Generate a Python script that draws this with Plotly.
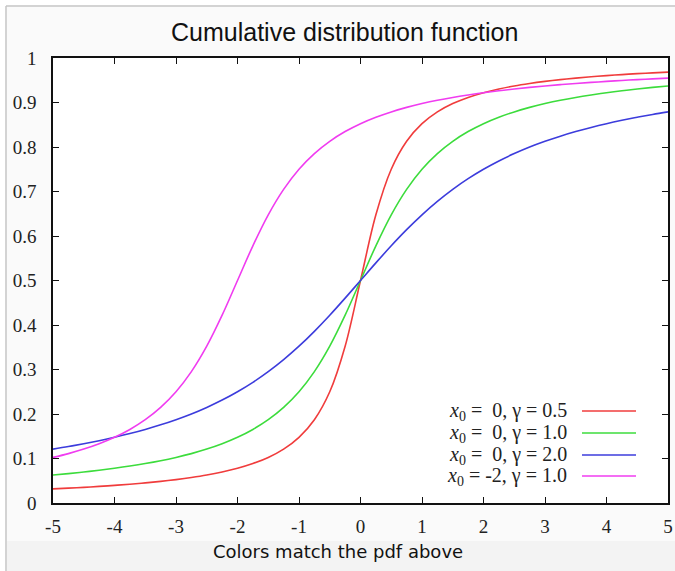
import plotly.graph_objects as go

# ---- data ----
x_vals = [-5, -4.75, -4.5, -4.25, -4, -3.75, -3.5, -3.25, -3, -2.75, -2.5, -2.25, -2, -1.75, -1.5,
          -1.25, -1, -0.75, -0.5, -0.25, 0, 0.25, 0.5, 0.75, 1, 1.25, 1.5, 1.75, 2, 2.25, 2.5,
          2.75, 3, 3.25, 3.5, 3.75, 4, 4.25, 4.5, 4.75, 5]

red_x0_0_g05 = [0.0317, 0.0334, 0.0352, 0.0373, 0.0396, 0.0422, 0.0452, 0.0486, 0.0526, 0.0573,
                0.0628, 0.0696, 0.0780, 0.0886, 0.1024, 0.1211, 0.1476, 0.1872, 0.2500, 0.3524,
                0.5000, 0.6476, 0.7500, 0.8128, 0.8524, 0.8789, 0.8976, 0.9114, 0.9220, 0.9304,
                0.9372, 0.9427, 0.9474, 0.9514, 0.9548, 0.9578, 0.9604, 0.9627, 0.9648, 0.9666, 0.9683]

green_x0_0_g1 = [0.0628, 0.0661, 0.0696, 0.0736, 0.0780, 0.0830, 0.0886, 0.0950, 0.1024, 0.1110,
                 0.1211, 0.1331, 0.1476, 0.1653, 0.1872, 0.2148, 0.2500, 0.2952, 0.3524, 0.4220,
                 0.5000, 0.5780, 0.6476, 0.7048, 0.7500, 0.7852, 0.8128, 0.8347, 0.8524, 0.8669,
                 0.8789, 0.8890, 0.8976, 0.9050, 0.9114, 0.9170, 0.9220, 0.9264, 0.9304, 0.9339, 0.9372]

blue_x0_0_g2 = [0.1211, 0.1268, 0.1331, 0.1400, 0.1476, 0.1560, 0.1653, 0.1756, 0.1872, 0.2001,
                0.2148, 0.2313, 0.2500, 0.2712, 0.2952, 0.3222, 0.3524, 0.3858, 0.4220, 0.4604,
                0.5000, 0.5396, 0.5780, 0.6142, 0.6476, 0.6778, 0.7048, 0.7288, 0.7500, 0.7687,
                0.7852, 0.7999, 0.8128, 0.8244, 0.8347, 0.8440, 0.8524, 0.8600, 0.8669, 0.8732, 0.8789]

magenta_x0_m2_g1 = [0.1024, 0.1110, 0.1211, 0.1331, 0.1476, 0.1653, 0.1872, 0.2148, 0.2500, 0.2952,
                    0.3524, 0.4220, 0.5000, 0.5780, 0.6476, 0.7048, 0.7500, 0.7852, 0.8128, 0.8347,
                    0.8524, 0.8669, 0.8789, 0.8890, 0.8976, 0.9050, 0.9114, 0.9170, 0.9220, 0.9264,
                    0.9304, 0.9339, 0.9372, 0.9401, 0.9428, 0.9452, 0.9474, 0.9495, 0.9514, 0.9532, 0.9548]

series_labels = ["<i>x</i><sub>0</sub> =  0, γ = 0.5",
                 "<i>x</i><sub>0</sub> =  0, γ = 1.0",
                 "<i>x</i><sub>0</sub> =  0, γ = 2.0",
                 "<i>x</i><sub>0</sub> = -2, γ = 1.0"]
series_values = [red_x0_0_g05, green_x0_0_g1, blue_x0_0_g2, magenta_x0_m2_g1]
series_colors = ["#f03c3c", "#3cdc3c", "#3c3cdc", "#f03cf0"]

x_tick_vals = [-5, -4, -3, -2, -1, 0, 1, 2, 3, 4, 5]
x_tick_text = ["-5", "-4", "-3", "-2", "-1", "0", "1", "2", "3", "4", "5"]
y_tick_vals = [0, 0.1, 0.2, 0.3, 0.4, 0.5, 0.6, 0.7, 0.8, 0.9, 1]
y_tick_text = ["0", "0.1", "0.2", "0.3", "0.4", "0.5", "0.6", "0.7", "0.8", "0.9", "1"]

title_text = "Cumulative distribution function"
xlabel_text = "Colors match the pdf above"

# ---- figure ----
fig = go.Figure()
for lab, vals, col in zip(series_labels, series_values, series_colors):
    fig.add_trace(go.Scatter(x=x_vals, y=vals, mode="lines", name=lab,
                             line=dict(color=col, width=1.6, shape="spline", smoothing=1.0),
                             showlegend=False))

W, H = 675, 571
L, R, T, B = 53, 668, 58, 503

def px(xp):
    return (xp - L) / (R - L)

def py(yp):
    return (B - yp) / (B - T)

shapes = []
# page frame (light background, left & top border lines)
shapes.append(dict(type="rect", xref="paper", yref="paper",
                   x0=px(7), x1=px(W + 5), y0=py(H + 5), y1=py(7),
                   fillcolor="#fafafa", line=dict(width=0), layer="below"))
shapes.append(dict(type="rect", xref="paper", yref="paper",
                   x0=px(7), x1=px(W + 5), y0=py(H + 5), y1=py(541),
                   fillcolor="#f3f3f3", line=dict(width=0), layer="below"))
shapes.append(dict(type="line", xref="paper", yref="paper",
                   x0=px(6), x1=px(W + 5), y0=py(6), y1=py(6),
                   line=dict(color="#c4c4c4", width=1.5)))
shapes.append(dict(type="line", xref="paper", yref="paper",
                   x0=px(6), x1=px(6), y0=py(6), y1=py(H + 5),
                   line=dict(color="#c4c4c4", width=1.5)))
shapes.append(dict(type="rect", xref="paper", yref="paper",
                   x0=0, x1=1, y0=0, y1=1, fillcolor="white",
                   line=dict(width=0), layer="below"))

annotations = []
row_y = [411, 433, 455, 476]
for lab, col, ry in zip(series_labels, series_colors, row_y):
    annotations.append(dict(xref="paper", yref="paper", x=px(569), y=py(ry),
                            text=lab, showarrow=False, xanchor="right", yanchor="middle",
                            font=dict(family="Liberation Serif", size=20, color="#222")))
    shapes.append(dict(type="line", xref="paper", yref="paper",
                       x0=px(582), x1=px(636), y0=py(ry), y1=py(ry),
                       line=dict(color=col, width=1.6)))

annotations.append(dict(xref="paper", yref="paper", x=px(344), y=py(32),
                        text=title_text, showarrow=False, xanchor="center", yanchor="middle",
                        font=dict(family="Liberation Sans", size=25, color="#111")))
annotations.append(dict(xref="paper", yref="paper", x=px(338), y=py(551),
                        text=xlabel_text, showarrow=False, xanchor="center", yanchor="middle",
                        font=dict(family="DejaVu Sans", size=18, color="#111")))

axis_common = dict(showline=True, linecolor="#111", linewidth=1.5, mirror="ticks",
                   ticks="inside", ticklen=6, tickwidth=1.2, tickcolor="#111",
                   showgrid=False, zeroline=False, automargin=False,
                   tickfont=dict(family="Liberation Serif", size=19, color="#222"))

fig.update_layout(
    width=W, height=H,
    margin=dict(l=L, r=W - R, t=T, b=H - B, pad=0, autoexpand=False),
    paper_bgcolor="white", plot_bgcolor="rgba(0,0,0,0)",
    xaxis=dict(range=[-5, 5], tickvals=x_tick_vals, ticktext=x_tick_text, **axis_common),
    yaxis=dict(range=[0, 1], tickvals=y_tick_vals, ticktext=y_tick_text, **axis_common),
    shapes=shapes, annotations=annotations, showlegend=False,
)
fig.update_xaxes(ticklabelstandoff=5)
fig.update_yaxes(ticklabelstandoff=11)

fig.write_html("out.html", config={"displayModeBar": False},
               post_script="document.body.style.margin='0';")
